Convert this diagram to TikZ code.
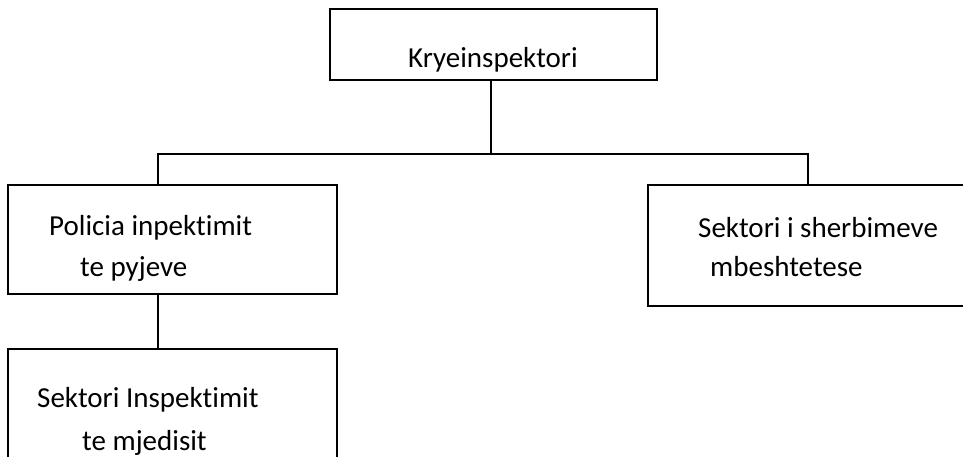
\documentclass[tikz,border=0pt]{standalone}
\usepackage{fontspec}
\setmainfont{Carlito}[Ligatures={NoCommon}]
\begin{document}
\begin{tikzpicture}[x=1pt,y=-1pt,
  boxst/.style={draw=black,line width=1.3pt,rectangle,inner sep=0pt},
  lbl/.style={anchor=base west,inner sep=0pt,font=\fontsize{29}{34}\selectfont},
  conn/.style={draw=black,line width=1.3pt}]
\useasboundingbox (0,0) rectangle (963,456);
\clip (0,0) rectangle (963,456);
\fill[white] (0,0) rectangle (963,456);
% boxes
\node[boxst,minimum width=327pt,minimum height=71pt] (top) at (493.5,44.5) {};
\node[boxst,minimum width=329pt,minimum height=109pt] (left) at (172.5,239.5) {};
\node[boxst,minimum width=360pt,minimum height=121pt] (right) at (828,245.5) {};
\node[boxst,minimum width=329pt,minimum height=125pt] (bottom) at (172.5,411.5) {};
% labels
\node[lbl] (ttop) at (408,67) {Kryeinspektori};
\node[lbl] (tl1) at (49,235) {Policia inpektimit};
\node[lbl] (tl2) at (80,276) {te pyjeve};
\node[lbl] (tr1) at (698,237) {Sektori i sherbimeve};
\node[lbl] (tr2) at (710,276) {mbeshtetese};
\node[lbl] (tb1) at (37,407) {Sektori Inspektimit};
\node[lbl] (tb2) at (82,450) {te mjedisit};
% connectors
\coordinate (jl) at (158,154);
\coordinate (jr) at (808,154);
\coordinate (jm) at (491,154);
\draw[conn] (top.south -| jm) -- (jm);
\draw[conn] (left.north -| jl) |- (jr) -- (right.north -| jr);
\draw[conn] (left.south -| jl) -- (bottom.north -| jl);
\end{tikzpicture}
\end{document}
